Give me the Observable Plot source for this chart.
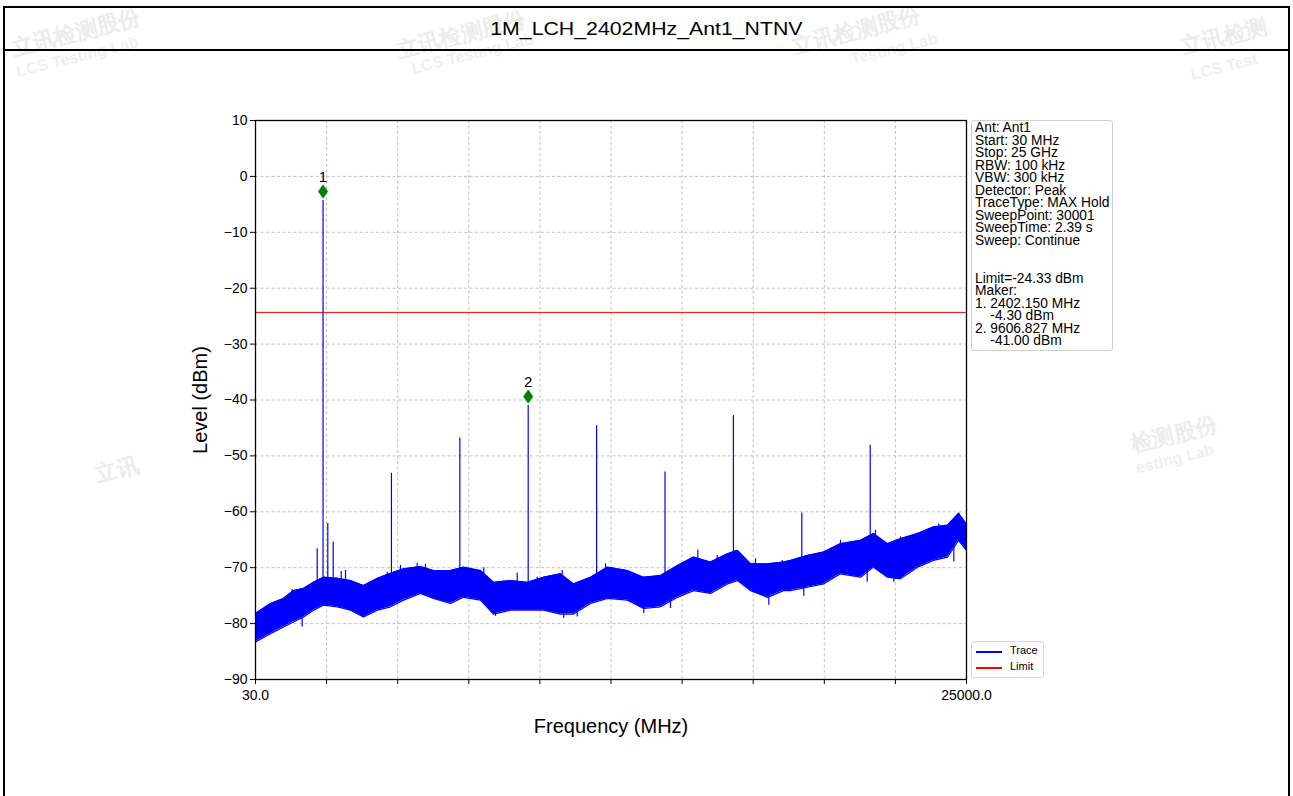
<!DOCTYPE html>
<html>
<head>
<meta charset="utf-8">
<script src="https://cdn.jsdelivr.net/npm/d3@7"></script>
<script src="https://cdn.jsdelivr.net/npm/@observablehq/plot@0.6"></script>
<style>
  html, body { margin: 0; padding: 0; background: #fff; width: 1293px; height: 796px; overflow: hidden; }
  body { font-family: "Liberation Sans", Arial, sans-serif; position: relative; }
  #frame { position: absolute; left: 3px; top: 6px; width: 1287px; height: 820px; border: 2px solid #000; box-sizing: border-box; }
  #title { position: absolute; left: 0; top: 0; width: 100%; height: 41px; border-bottom: 2px solid #000; text-align: center; line-height: 41px; font-size: 19px; }
  #title span { display: inline-block; transform: scaleX(1.12); }
  .wm { position: absolute; color: #ececec; font-size: 22px; font-weight: bold; transform: rotate(-14deg); white-space: nowrap; }
  .wm2 { position: absolute; color: #efefef; font-size: 16px; font-weight: bold; transform: rotate(-14deg); white-space: nowrap; }
  #chart { position: absolute; left: 165px; top: 65px; }
  #info { position: absolute; left: 971px; top: 120px; width: 142px; height: 231px; border: 1px solid #cfcfcf; border-radius: 3px; background: #fff; box-sizing: border-box; font-size: 13.8px; line-height: 12.55px; padding: 1px 0 0 3px; white-space: pre; }
  #legend { position: absolute; left: 971px; top: 641px; width: 73px; height: 37px; border: 1px solid #d8d8d8; border-radius: 3px; background: #fff; box-sizing: border-box; font-size: 11px; }
  .lg { position: absolute; left: 4px; width: 26px; height: 1.5px; }
  .lt { position: absolute; left: 38px; }
</style>
</head>
<body>
<div class="wm" style="left:10px;top:18px;">立讯检测股份</div>
<div class="wm2" style="left:15px;top:48px;">LCS Testing Lab</div>
<div class="wm" style="left:395px;top:20px;">立讯检测股份</div>
<div class="wm2" style="left:410px;top:45px;">LCS Testing Lab</div>
<div class="wm" style="left:790px;top:16px;">立讯检测股份</div>
<div class="wm2" style="left:850px;top:40px;">Testing Lab</div>
<div class="wm" style="left:1180px;top:22px;">立讯检测</div>
<div class="wm2" style="left:1190px;top:58px;">LCS Test</div>
<div class="wm" style="left:1130px;top:420px;">检测股份</div>
<div class="wm2" style="left:1135px;top:450px;">esting Lab</div>
<div class="wm" style="left:95px;top:455px;">立讯</div>
<div id="frame"><div id="title"><span></span></div></div>
<div id="chart"></div>
<div id="info"></div>
<div id="legend">
  <div class="lg" style="top:9px;background:#0000ff;"></div><div class="lt" style="top:2px;">Trace</div>
  <div class="lg" style="top:25px;background:#ff0000;"></div><div class="lt" style="top:18px;">Limit</div>
</div>
<script>
// ---------- data ----------
const chartTitle = "1M_LCH_2402MHz_Ant1_NTNV";
const xLabel = "Frequency (MHz)";
const yLabel = "Level (dBm)";

// noise-floor envelope (MHz, dBm)
const noiseFreq = [30, 557, 1013, 1365, 1716, 2067, 2418, 2910, 3366, 3823, 4315, 4771, 5228, 5825, 6281, 6878, 7335, 7932, 8389, 8986, 9583, 10145, 10742, 11198, 11795, 12392, 13094, 13657, 14254, 14851, 15413, 16010, 16607, 16958, 17414, 18011, 18573, 18819, 19416, 19978, 20575, 21278, 21734, 22226, 22682, 23279, 23841, 24333, 24719, 25000];
const noiseHigh = [-78.2, -76.4, -75.5, -74.1, -73.7, -72.6, -71.7, -71.9, -72.3, -73.2, -71.9, -71.0, -70.2, -69.8, -70.5, -70.5, -69.9, -70.5, -72.6, -72.3, -72.6, -71.7, -71.1, -72.9, -71.7, -69.9, -70.5, -71.7, -71.4, -69.6, -68.1, -69.0, -67.5, -66.9, -69.3, -69.3, -69.0, -68.7, -67.8, -67.2, -65.7, -65.1, -63.9, -65.7, -64.8, -63.9, -62.7, -62.4, -60.3, -62.2];
const noiseLow  = [-83.3, -81.8, -80.6, -79.7, -78.8, -77.6, -76.7, -77.0, -77.6, -78.8, -77.6, -77.0, -75.8, -74.6, -75.5, -76.4, -75.3, -75.8, -78.3, -77.6, -77.6, -77.6, -78.3, -78.3, -76.4, -75.5, -75.8, -77.3, -77.0, -75.3, -74.1, -74.6, -72.9, -72.3, -74.1, -75.3, -74.1, -74.1, -73.5, -72.9, -71.1, -71.7, -69.9, -71.7, -72.0, -69.9, -68.7, -68.1, -65.1, -66.9];

// individual noise peaks and dips that stick out of the band (MHz, dBm)
const noiseTipFreq  = [1319, 3040, 3191, 4655, 5122, 5709, 6000, 8048, 9221, 9923, 10801, 12322, 15564, 16245, 16888, 17590, 18528, 20575, 21804, 22682, 23560, 24027, 24729];
const noiseTipLevel = [-73.9, -70.7, -70.5, -70.8, -69.6, -69.2, -69.4, -70.0, -71.0, -71.7, -70.5, -69.3, -66.9, -67.8, -66.9, -68.4, -68.7, -65.1, -63.3, -64.5, -63.9, -62.2, -60.2];
const noiseDipFreq  = [1670, 8459, 10858, 11328, 13667, 14605, 18058, 19286, 21513, 22447, 24555];
const noiseDipLevel = [-80.6, -78.7, -79.1, -78.8, -78.2, -77.3, -76.7, -75.1, -72.6, -72.6, -69.0];

// discrete spurs / harmonics (MHz, dBm), with the level where each leaves the noise band
const spurFreq  = [2197, 2402.15, 2569, 2759, 4804, 7206, 9606.827, 12010, 14412, 16814, 19216, 21618];
const spurLevel = [-66.6, -4.3, -62.1, -65.4, -53.1, -46.8, -41.0, -44.6, -52.9, -42.8, -60.2, -48.1];
const spurBase  = [-73.0, -74.0, -73.0, -73.0, -73.5, -72.5, -75.0, -73.0, -74.0, -70.0, -70.0, -67.5];

// markers
const markerLabel = ["1", "2"];
const markerFreq = [2402.15, 9606.827];
const markerLevel = [-4.30, -41.00];

const limitLevel = -24.33;

// axes
const xDomain = [30, 25000];
const yDomain = [-90, 10];
const xTicks = [30, 2527, 5024, 7521, 10018, 12515, 15012, 17509, 20006, 22503, 25000];
const xTickLabels = ["30.0", "", "", "", "", "", "", "", "", "", "25000.0"];
const yTicks = [-90, -80, -70, -60, -50, -40, -30, -20, -10, 0, 10];

const infoLines = ["Ant: Ant1", "Start: 30 MHz", "Stop: 25 GHz", "RBW: 100 kHz", "VBW: 300 kHz", "Detector: Peak", "TraceType: MAX Hold", "SweepPoint: 30001", "SweepTime: 2.39 s", "Sweep: Continue", "", "", "Limit=-24.33 dBm", "Maker:", "1. 2402.150 MHz", "    -4.30 dBm", "2. 9606.827 MHz", "    -41.00 dBm"];

// ---------- build ----------
document.querySelector("#title span").textContent = chartTitle;
document.getElementById("info").textContent = infoLines.join("\n");

const noise = noiseFreq.map((f, i) => ({f, hi: noiseHigh[i], lo: noiseLow[i]}));
const tips = noiseTipFreq.map((f, i) => ({f, level: noiseTipLevel[i]}));
const dips = noiseDipFreq.map((f, i) => ({f, level: noiseDipLevel[i]}));
const spurs = spurFreq.map((f, i) => ({f, level: spurLevel[i], base: spurBase[i]}));
const markers = markerFreq.map((f, i) => ({f, level: markerLevel[i], label: markerLabel[i]}));
const tickLabelMap = new Map(xTicks.map((t, i) => [t, xTickLabels[i]]));

const thinDiamond = {
  draw(context, size) {
    const s = Math.sqrt(size / Math.PI);
    context.moveTo(0, -1.35 * s);
    context.lineTo(0.95 * s, 0);
    context.lineTo(0, 1.35 * s);
    context.lineTo(-0.95 * s, 0);
    context.closePath();
  }
};

const grid = {stroke: "#b0b0b0", strokeOpacity: 1, strokeWidth: 0.8, strokeDasharray: "3,2.5"};
const blue = "#0000ff";

const plot = Plot.plot({
  width: 1105,
  height: 700,
  marginLeft: 90,
  marginRight: 304,
  marginTop: 55,
  marginBottom: 86,
  style: {fontFamily: "'Liberation Sans', Arial, sans-serif", fontSize: "14px", background: "transparent", color: "#000"},
  x: {domain: xDomain},
  y: {domain: yDomain},
  marks: [
    Plot.ruleX(xTicks, {...grid}),
    Plot.ruleY(yTicks, {...grid}),
    Plot.areaY(noise, {x: "f", y1: "lo", y2: "hi", fill: blue, curve: "linear"}),
    Plot.line(noise, {x: "f", y: "hi", stroke: blue, strokeWidth: 1.2}),
    Plot.line(noise, {x: "f", y: "lo", stroke: blue, strokeWidth: 1.2}),
    Plot.ruleX(tips, {x: "f", y1: "level", y2: d => d.level - 4, stroke: blue, strokeWidth: 1.2}),
    Plot.ruleX(dips, {x: "f", y1: "level", y2: d => d.level + 4, stroke: blue, strokeWidth: 1.2}),
    Plot.ruleX(spurs, {x: "f", y1: "base", y2: "level", stroke: blue, strokeWidth: 1.2}),
    Plot.ruleY([limitLevel], {stroke: "#ff0000", strokeWidth: 1}),
    Plot.dot(markers, {x: "f", y: "level", symbol: thinDiamond, r: 5, fill: "#008000", stroke: "#008000", strokeWidth: 0.5, dy: -9}),
    Plot.text(markers, {x: "f", y: "level", text: "label", dy: -23, fontSize: 15, fill: "#000"}),
    Plot.frame({stroke: "#000", strokeWidth: 1.3}),
    Plot.axisY(yTicks, {tickSize: 5, tickPadding: 3, fontSize: 14, label: null, tickFormat: d => d3.format("d")(d)}),
    Plot.axisX(xTicks, {tickSize: 5, tickPadding: 6, fontSize: 14, label: null, tickFormat: d => tickLabelMap.get(d) ?? ""}),
    Plot.text([yLabel], {frameAnchor: "left", textAnchor: "middle", rotate: -90, dx: -55, fontSize: 20, fill: "#000"}),
    Plot.text([xLabel], {frameAnchor: "bottom", textAnchor: "middle", dy: 53, fontSize: 20, fill: "#000"})
  ]
});
document.getElementById("chart").appendChild(plot);
</script>
</body>
</html>
